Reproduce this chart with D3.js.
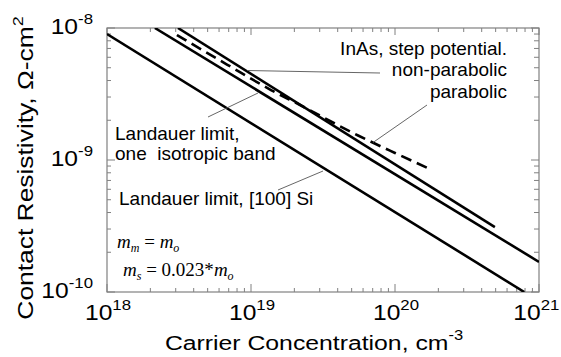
<!DOCTYPE html>
<html><head><meta charset="utf-8">
<script src="https://cdn.jsdelivr.net/npm/d3@7"></script>
<style>
html,body{margin:0;padding:0;background:#fff;}
text{font-family:"Liberation Sans",Arial,sans-serif;fill:#000;white-space:pre;}
.math{font-family:"Liberation Serif","Times New Roman",serif;}
</style></head>
<body><svg id="c" width="561" height="357"></svg>
<script>
// ---- data (carrier concentration in cm^-3, contact resistivity in ohm-cm^2) ----
const xTickExps = [18, 19, 20, 21];
const yTickExps = [-8, -9, -10];
const landauerSiN   = [1.0e18, 7.9e20];
const landauerSiRho = [9.0e-9, 1.0e-10];
const isoBandN   = [2.15e18, 1.0e21];
const isoBandRho = [1.0e-8, 1.69e-10];
const nonParabN   = [3.11e18, 4.94e20];
const nonParabRho = [1.0e-8, 3.10e-10];
const parabN   = [3.06e18, 6.81e18, 1.377e19, 2.19e19, 5.54e19, 1.0e20, 1.81e20];
const parabRho = [8.85e-9, 5.29e-9, 3.39e-9, 2.61e-9, 1.533e-9, 1.13e-9, 8.4e-10];

const svg = d3.select("#c");
const W = 561;
const L = 107, R = 539, T = 28, B = 292;
const x = d3.scaleLog().domain([1e18, 1e21]).range([L, R]);
const y = d3.scaleLog().domain([1e-10, 1e-8]).range([B, T]);

// ticks
const frameCol = "#808080";
function minorVals(lo, hi){ const out=[]; for(let e=lo;e<hi;e++){ for(let k=1;k<10;k++) out.push(k*Math.pow(10,e)); } out.push(Math.pow(10,hi)); return out; }
const xv = minorVals(18, 21), yv = minorVals(-10, -8);
const isMajor = v => Math.abs(Math.log10(v) - Math.round(Math.log10(v))) < 1e-9;

const gx = svg.append("g");
gx.selectAll("line.b").data(xv).join("line")
  .attr("x1", d=>x(d)).attr("x2", d=>x(d)).attr("y1", B).attr("y2", d=>B-(isMajor(d)?8:4))
  .attr("stroke", frameCol).attr("stroke-width",1);
gx.selectAll("line.t").data(xv).enter().append("line")
  .attr("x1", d=>x(d)).attr("x2", d=>x(d)).attr("y1", T).attr("y2", d=>T+(isMajor(d)?7:4))
  .attr("stroke", frameCol).attr("stroke-width",1);
const gy = svg.append("g");
gy.selectAll("line.l").data(yv).join("line")
  .attr("y1", d=>y(d)).attr("y2", d=>y(d)).attr("x1", L).attr("x2", d=>L+(isMajor(d)?8:4))
  .attr("stroke", frameCol).attr("stroke-width",1);
gy.selectAll("line.r").data(yv).enter().append("line")
  .attr("y1", d=>y(d)).attr("y2", d=>y(d)).attr("x1", R).attr("x2", d=>R-(isMajor(d)?8:5))
  .attr("stroke", frameCol).attr("stroke-width",1);
svg.append("rect").attr("x",L).attr("y",T).attr("width",R-L).attr("height",B-T)
  .attr("fill","none").attr("stroke",frameCol).attr("stroke-width",1.2);

// clip
svg.append("clipPath").attr("id","clip").append("rect").attr("x",L).attr("y",T).attr("width",R-L).attr("height",B-T);

const line = d3.line().x(d=>x(d[0])).y(d=>y(d[1]));
const zip = (a,b)=>a.map((v,i)=>[v,b[i]]);
const gl = svg.append("g").attr("clip-path","url(#clip)");
[[landauerSiN,landauerSiRho],[isoBandN,isoBandRho],[nonParabN,nonParabRho]].forEach(([n,r])=>{
  gl.append("path").attr("d", line(zip(n,r))).attr("fill","none").attr("stroke","#000").attr("stroke-width",2.6);
});
gl.append("path").attr("d", line.curve(d3.curveMonotoneX)(zip(parabN,parabRho))).attr("fill","none")
  .attr("stroke","#000").attr("stroke-width",2.6).attr("stroke-dasharray","11,6");

// tick labels (slightly stretched horizontally as in the reference)
const sx = 1.12;
function powLabel(px, py, exp, anchor){
  const g = svg.append("g").attr("transform",`translate(${px},${py}) scale(${sx},1)`);
  const t = g.append("text").attr("text-anchor",anchor).attr("font-size",22);
  t.append("tspan").text("10");
  t.append("tspan").attr("font-size",15).attr("dy",-10).text(exp);
  // keep inside the picture
  const bb = t.node().getBBox();
  const right = px + (bb.x + bb.width) * sx;
  if (right > W - 1.5) g.attr("transform",`translate(${px - (right - (W - 1.5))},${py}) scale(${sx},1)`);
  return t;
}
xTickExps.forEach(e=>powLabel(x(Math.pow(10,e))+1, 320, String(e), "middle"));
yTickExps.forEach(e=>powLabel(93, y(Math.pow(10,e))+5.5, String(e), "end"));

// axis titles
const xt = svg.append("g").attr("transform","translate(314,350) scale(1.18,1)")
  .append("text").attr("text-anchor","middle").attr("font-size",21);
xt.append("tspan").text("Carrier Concentration, cm");
xt.append("tspan").attr("font-size",14).attr("dy",-10).text("-3");
const yt = svg.append("g").attr("transform","translate(33,168) rotate(-90) scale(1.2,1)")
  .append("text").attr("text-anchor","middle").attr("font-size",22);
yt.append("tspan").text("Contact Resistivity, \u03A9-cm");
yt.append("tspan").attr("font-size",15).attr("dy",-10).text("2");

// annotations
const ann = (tx,ty,s,anchor)=>svg.append("text").attr("x",tx).attr("y",ty).attr("text-anchor",anchor).attr("font-size",19).text(s);
ann(507,55,"InAs, step potential.","end");
ann(507,76,"non-parabolic","end");
ann(507,98,"parabolic","end");
ann(115,140,"Landauer limit,","start");
ann(115,160,"one  isotropic band","start");
ann(119,205,"Landauer limit, [100] Si","start");

// leader lines
const leaders = [[247,70.5,380,73],[427,105,373,142.5],[208,117,258,93],[278,190,323,171]];
svg.selectAll("line.ld").data(leaders).enter().append("line")
  .attr("x1",d=>d[0]).attr("y1",d=>d[1]).attr("x2",d=>d[2]).attr("y2",d=>d[3])
  .attr("stroke","#555").attr("stroke-width",0.9);

// math
const m1 = svg.append("text").attr("class","math").attr("x",117).attr("y",248).attr("font-size",19);
m1.append("tspan").attr("font-style","italic").text("m");
m1.append("tspan").attr("font-style","italic").attr("font-size",12).attr("dy",4).text("m");
m1.append("tspan").attr("dy",-4).text(" = ");
m1.append("tspan").attr("font-style","italic").text("m");
m1.append("tspan").attr("font-style","italic").attr("font-size",12).attr("dy",4).text("o");
const m2 = svg.append("text").attr("class","math").attr("x",123).attr("y",276).attr("font-size",19);
m2.append("tspan").attr("font-style","italic").text("m");
m2.append("tspan").attr("font-style","italic").attr("font-size",12).attr("dy",4).text("s");
m2.append("tspan").attr("dy",-4).text(" = 0.023*");
m2.append("tspan").attr("font-style","italic").text("m");
m2.append("tspan").attr("font-style","italic").attr("font-size",12).attr("dy",4).text("o");
</script></body></html>
